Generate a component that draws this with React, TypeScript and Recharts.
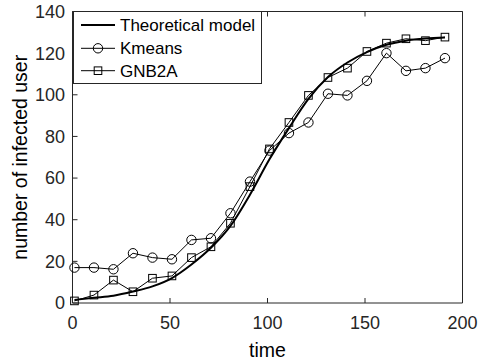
import React from 'react';
import { LineChart, Line, XAxis, YAxis } from 'recharts';

const times = [1, 11, 21, 31, 41, 51, 61, 71, 81, 91, 101, 111, 121, 131, 141, 151, 161, 171, 181, 191];
const theoretical = [1.5, 2.5, 3.5, 5.5, 8, 12, 18.5, 26.5, 37, 52, 69, 84, 98, 108.5, 115.5, 120.5, 124, 126, 127, 127.5];
const kmeans = [17, 17, 16.2, 23.9, 21.8, 21, 30.3, 31.1, 43.1, 58.3, 73.2, 81.6, 86.7, 100.5, 99.7, 106.7, 120, 111.5, 112.8, 117.6];
const gnb2a = [1, 3.8, 11, 5.4, 11.9, 13, 21.8, 27, 38.3, 55.9, 74, 86.7, 99.7, 108.3, 112.8, 120.8, 124.8, 126.9, 126, 127.7];
const xTicks = [0, 50, 100, 150, 200];
const yTicks = [0, 20, 40, 60, 80, 100, 120, 140];
const legendNames = ['Theoretical model', 'Kmeans', 'GNB2A'];

const data = times.map((t, i) => ({ t, theo: theoretical[i], km: kmeans[i], gnb: gnb2a[i] }));

const FONT = 'Arial, "Liberation Sans", Helvetica, sans-serif';
const AX = '#262626';

const SquareDot = (props: any) => {
  const { cx, cy, index } = props;
  if (cx == null || cy == null) return <g key={`s${index}`} />;
  return <rect key={`s${index}`} x={cx - 3.8} y={cy - 3.8} width={7.6} height={7.6} fill="none" stroke="#000" strokeWidth={1} />;
};

const LegendBox = () => (
  <div style={{ position: 'absolute', left: 72.5, top: 11, width: 189, height: 73, border: `1px solid ${AX}`, background: '#fff', boxSizing: 'border-box' }}>
    <svg width={187} height={71} style={{ display: 'block' }}>
      <line x1={7} x2={41} y1={13} y2={13} stroke="#000" strokeWidth={2} />
      <text x={46} y={13} dy="0.35em" fontSize={17} fontFamily={FONT} fill="#000">{legendNames[0]}</text>
      <line x1={7} x2={41} y1={36.3} y2={36.3} stroke="#000" strokeWidth={1} />
      <circle cx={24} cy={36.3} r={4.7} fill="none" stroke="#000" />
      <text x={46} y={36.3} dy="0.35em" fontSize={17} fontFamily={FONT} fill="#000">{legendNames[1]}</text>
      <line x1={7} x2={41} y1={58.7} y2={58.7} stroke="#000" strokeWidth={1} />
      <rect x={20.2} y={54.9} width={7.6} height={7.6} fill="none" stroke="#000" />
      <text x={46} y={58.7} dy="0.35em" fontSize={17} fontFamily={FONT} fill="#000">{legendNames[2]}</text>
    </svg>
  </div>
);

const tickStyle = { fontSize: 18, fontFamily: FONT, fill: '#262626' };

export default function App() {
  return (
    <div style={{ position: 'absolute', left: 0, top: 0, width: 478, height: 361, background: '#fff' }}>
      <LineChart width={478} height={361} data={data} margin={{ top: 10.5, right: 5.5, left: 0, bottom: 0 }}>
        <XAxis
          dataKey="t"
          type="number"
          domain={[0, 200]}
          ticks={xTicks}
          height={58}
          tickSize={-5}
          tickMargin={18.5}
          tick={tickStyle}
          axisLine={{ stroke: AX }}
          tickLine={{ stroke: AX }}
          label={{
            content: (p: any) => {
              const vb = p.viewBox;
              return (
                <text x={vb.x + vb.width / 2} y={vb.y + 53.5} textAnchor="middle" fontSize={19.5} fontFamily={FONT} fill="#000">time</text>
              );
            },
          }}
        />
        <XAxis
          xAxisId="top"
          orientation="top"
          type="number"
          dataKey="t"
          domain={[0, 200]}
          ticks={xTicks}
          height={1}
          tickSize={-5}
          tickFormatter={() => ''}
          axisLine={{ stroke: AX }}
          tickLine={{ stroke: AX }}
        />
        <YAxis
          type="number"
          domain={[0, 140]}
          ticks={yTicks}
          width={72.5}
          tickSize={-5}
          tickMargin={12.5}
          tick={tickStyle}
          axisLine={{ stroke: AX }}
          tickLine={{ stroke: AX }}
          label={{
            content: (p: any) => {
              const vb = p.viewBox;
              const cx = 19.5;
              const cy = vb.y + vb.height / 2;
              return (
                <text x={cx} y={cy} transform={`rotate(-90 ${cx} ${cy})`} textAnchor="middle" dominantBaseline="central" fontSize={19.5} fontFamily={FONT} fill="#000">number of infected user</text>
              );
            },
          }}
        />
        <YAxis
          yAxisId="right"
          orientation="right"
          type="number"
          domain={[0, 140]}
          ticks={yTicks}
          width={10}
          tickSize={-5}
          tickFormatter={() => ''}
          axisLine={{ stroke: AX }}
          tickLine={{ stroke: AX }}
        />
        <Line dataKey="theo" type="monotone" stroke="#000" strokeWidth={2} dot={false} isAnimationActive={false} />
        <Line dataKey="km" type="linear" stroke="#000" strokeWidth={1} dot={{ r: 4.7, fill: 'none', stroke: '#000', strokeWidth: 1 }} isAnimationActive={false} />
        <Line dataKey="gnb" type="linear" stroke="#000" strokeWidth={1} dot={SquareDot} isAnimationActive={false} />
      </LineChart>
      <LegendBox />
    </div>
  );
}
